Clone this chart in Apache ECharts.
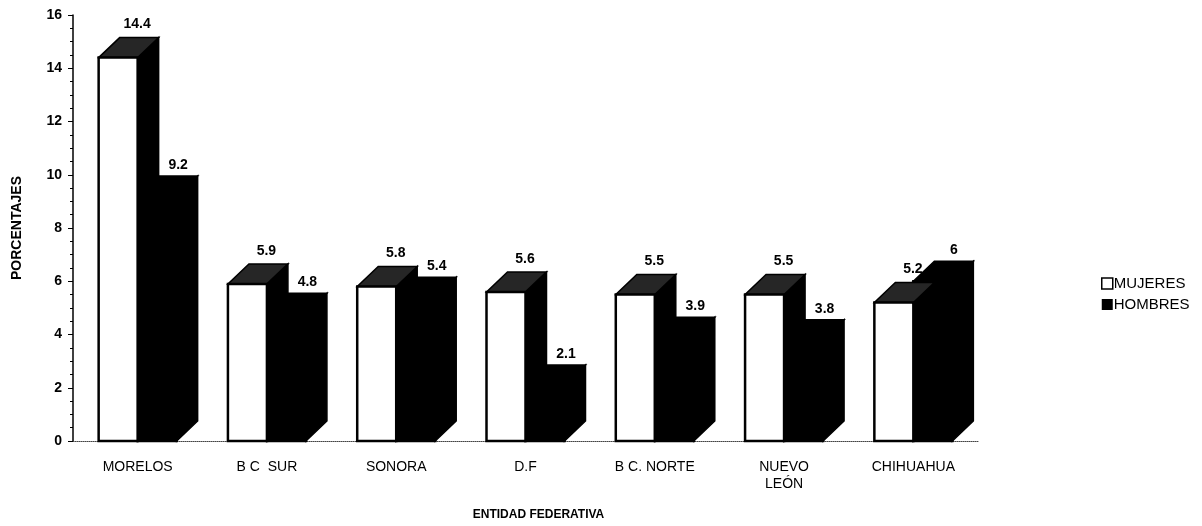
<!DOCTYPE html>
<html>
<head>
<meta charset="utf-8">
<script src="https://cdn.jsdelivr.net/npm/echarts@6/dist/echarts.min.js"></script>
<style>
  html, body { margin: 0; padding: 0; background: #fff; }
  #main { width: 1202px; height: 526px; }
</style>
</head>
<body>
<div id="main"></div>
<script>
var categorias = ['MORELOS', 'B C  SUR', 'SONORA', 'D.F', 'B C. NORTE', 'NUEVO\nLEÓN', 'CHIHUAHUA'];
var mujeres = [14.4, 5.9, 5.8, 5.6, 5.5, 5.5, 5.2];
var hombres = [9.2, 4.8, 5.4, 2.1, 3.9, 3.8, 6];
var yTicks = [0, 2, 4, 6, 8, 10, 12, 14, 16];

var fuente = 'Arial, "Liberation Sans", sans-serif';
var W = 39, DX = 21, DY = 20;   // ancho de la cara frontal y profundidad 3D

// caja 3D: cara frontal, tapa y costado
function caja(x, yTop, y0, frente, tapa, costado) {
    return [
        { type: 'polygon', shape: { points: [[x + W, yTop], [x + W + DX, yTop - DY], [x + W + DX, y0 - DY], [x + W, y0]] },
          style: { fill: costado, stroke: '#000', lineWidth: 1.5 } },
        { type: 'polygon', shape: { points: [[x, yTop], [x + W, yTop], [x + W + DX, yTop - DY], [x + DX, yTop - DY]] },
          style: { fill: tapa, stroke: '#000', lineWidth: 1.5 } },
        { type: 'polygon', shape: { points: [[x, yTop], [x + W, yTop], [x + W, y0], [x, y0]] },
          style: { fill: frente, stroke: '#000', lineWidth: 2.5 } }
    ];
}

function renderMujeres(params, api) {
    var i = api.value(0), v = api.value(1);
    var p = api.coord([i, v]), y0 = api.coord([i, 0])[1];
    var x0 = p[0] - W;
    var hijos = caja(x0, p[1], y0, '#fff', '#262626', '#000');
    hijos.push({ type: 'text', style: { text: String(v), x: x0 + DX + W / 2 - 2, y: p[1] - DY - 13,
        align: 'center', verticalAlign: 'middle', font: 'bold 14px ' + fuente, fill: '#000' } });
    return { type: 'group', children: hijos };
}

function renderHombres(params, api) {
    var i = api.value(0), v = api.value(1);
    var p = api.coord([i, v]), y0 = api.coord([i, 0])[1];
    var x1 = p[0];
    var hijos = caja(x1, p[1], y0, '#000', '#000', '#000');
    hijos.push({ type: 'text', style: { text: String(v), x: x1 + DX + W / 2, y: p[1] - DY - 11,
        align: 'center', verticalAlign: 'middle', font: 'bold 14px ' + fuente, fill: '#000' } });
    return { type: 'group', children: hijos };
}

var myChart = echarts.init(document.getElementById('main'));
option = {
    backgroundColor: '#fff',
    animation: false,
    textStyle: { fontFamily: fuente, color: '#000' },
    legend: {
        orient: 'vertical',
        left: 1096,
        top: 271,
        itemWidth: 11,
        itemHeight: 11,
        itemGap: 6,
        icon: 'rect',
        textStyle: { fontSize: 15, color: '#000', fontFamily: fuente, padding: [0, 0, 0, -4] },
        data: [
            { name: 'MUJERES', itemStyle: { color: '#fff', borderColor: '#000', borderWidth: 1.5 } },
            { name: 'HOMBRES', itemStyle: { color: '#000' } }
        ]
    },
    grid: { left: 73, right: 224, top: 15, bottom: 72 },
    xAxis: {
        type: 'category',
        data: categorias,
        name: 'ENTIDAD FEDERATIVA',
        nameLocation: 'middle',
        nameGap: 68,
        nameTextStyle: { fontWeight: 'bold', fontSize: 12, color: '#000', padding: [0, 0, 0, 26] },
        axisLine: { lineStyle: { color: '#444', type: 'dotted', width: 1 } },
        axisTick: { show: false },
        axisLabel: { fontSize: 14, color: '#000', margin: 18, lineHeight: 17 }
    },
    yAxis: {
        type: 'value',
        min: 0,
        max: 16,
        interval: 2,
        name: 'PORCENTAJES',
        nameLocation: 'middle',
        nameGap: 49,
        nameRotate: 90,
        nameTextStyle: { fontWeight: 'bold', fontSize: 14, color: '#000' },
        axisLine: { show: true, lineStyle: { color: '#000', width: 1.5 } },
        axisTick: { show: true, inside: false, length: 5, lineStyle: { color: '#000' } },
        minorTick: { show: true, splitNumber: 4, length: 3, lineStyle: { color: '#000' } },
        splitLine: { show: false },
        axisLabel: {
            fontSize: 14, fontWeight: 'bold', color: '#000', margin: 11,
            formatter: function (v) { return yTicks.indexOf(v) >= 0 ? String(v) : ''; }
        }
    },
    series: [
        {
            name: 'HOMBRES',
            type: 'custom',
            renderItem: renderHombres,
            itemStyle: { color: '#000' },
            encode: { x: 0, y: 1 },
            clip: false,
            data: hombres.map(function (v, i) { return [i, v]; })
        },
        {
            name: 'MUJERES',
            type: 'custom',
            renderItem: renderMujeres,
            itemStyle: { color: '#fff', borderColor: '#000' },
            encode: { x: 0, y: 1 },
            clip: false,
            data: mujeres.map(function (v, i) { return [i, v]; })
        }
    ]
};
myChart.setOption(option);
</script>
</body>
</html>
